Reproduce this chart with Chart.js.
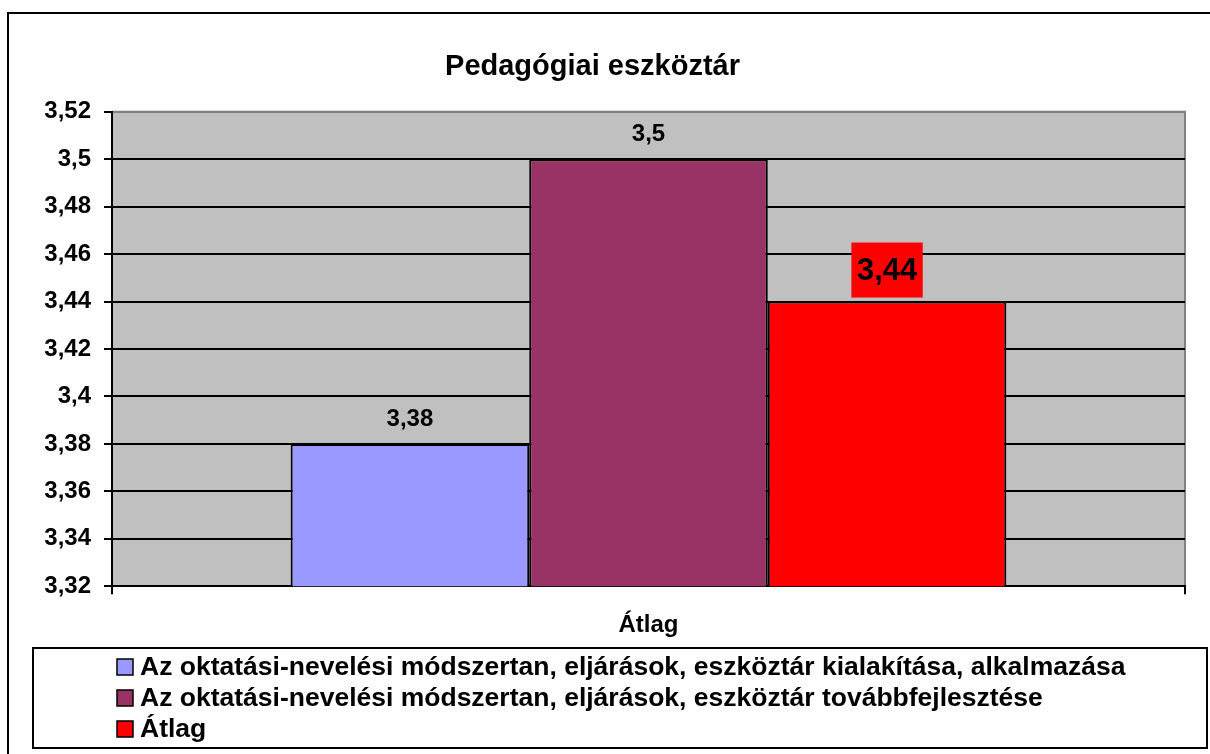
<!DOCTYPE html>
<html>
<head>
<meta charset="utf-8">
<script src="https://cdn.jsdelivr.net/npm/chart.js@4"></script>
<style>
  body { margin: 0; background: #fff; }
  #wrap { width: 1210px; height: 754px; }
</style>
</head>
<body>
<div id="wrap"><canvas id="chart"></canvas></div>
<script>
const categories = ["Átlag"];
const seriesNames = [
  "Az oktatási-nevelési módszertan, eljárások, eszköztár kialakítása, alkalmazása",
  "Az oktatási-nevelési módszertan, eljárások, eszköztár továbbfejlesztése",
  "Átlag"
];
const seriesValues = [[3.38], [3.5], [3.44]];
const seriesColors = ["#9999FF", "#993366", "#FF0000"];
const yTicks = { min: 3.32, max: 3.52, step: 0.02 };

const FONT = "Arial, 'Liberation Sans', sans-serif";
const fmt = v => String(+(+v).toFixed(2)).replace(".", ",");

// grey plot area, outer frame
const frame = {
  id: "frame",
  beforeDraw(chart) {
    const { ctx, chartArea: a } = chart;
    ctx.save();
    ctx.fillStyle = "#fff";
    ctx.fillRect(0, 0, chart.width, chart.height);
    ctx.strokeStyle = "#000";
    ctx.lineWidth = 2;
    ctx.strokeRect(8, 13, chart.width + 10, chart.height + 10);
    ctx.fillStyle = "#C0C0C0";
    ctx.fillRect(a.left, a.top, a.right - a.left, a.bottom - a.top);
    ctx.strokeStyle = "#808080";
    ctx.beginPath();
    ctx.moveTo(a.left, a.top);
    ctx.lineTo(a.right, a.top);
    ctx.lineTo(a.right, a.bottom);
    ctx.stroke();
    ctx.restore();
  }
};

// value labels above the bars
const valueLabels = {
  id: "valueLabels",
  afterDatasetsDraw(chart) {
    const ctx = chart.ctx;
    chart.data.datasets.forEach((ds, i) => {
      const meta = chart.getDatasetMeta(i);
      meta.data.forEach((bar, j) => {
        const txt = fmt(ds.data[j]);
        const size = ds.labelSize || 24;
        ctx.save();
        ctx.font = "bold " + size + "px " + FONT;
        ctx.textAlign = "center";
        ctx.textBaseline = "middle";
        const cy = bar.y - (ds.labelBox ? 31 : 26);
        if (ds.labelBox) {
          const w = ctx.measureText(txt).width + 11;
          ctx.fillStyle = ds.labelBox;
          ctx.fillRect(bar.x - w / 2, cy - 28, w, 55);
        }
        ctx.fillStyle = "#000";
        ctx.fillText(txt, bar.x, cy + 1);
        ctx.restore();
      });
    });
  }
};

// boxed legend, one series per row
const boxLegend = {
  id: "boxLegend",
  afterDraw(chart) {
    const ctx = chart.ctx;
    const top = chart.height - 106;
    ctx.save();
    ctx.strokeStyle = "#000";
    ctx.lineWidth = 2;
    ctx.strokeRect(33, top, 1174, 100);
    ctx.font = "bold 26.5px " + FONT;
    ctx.textBaseline = "middle";
    chart.data.datasets.forEach((ds, i) => {
      const y = top + 19 + i * 31;
      ctx.fillStyle = ds.backgroundColor;
      ctx.fillRect(117, y - 8, 16, 16);
      ctx.lineWidth = 1.5;
      ctx.strokeRect(117, y - 8, 16, 16);
      ctx.fillStyle = "#000";
      ctx.fillText(ds.label, 140, y + 1);
    });
    ctx.restore();
  }
};

new Chart(document.getElementById("chart"), {
  type: "bar",
  data: {
    labels: categories,
    datasets: seriesNames.map((name, i) => ({
      label: name,
      data: seriesValues[i],
      backgroundColor: seriesColors[i],
      borderColor: "#000",
      borderWidth: 2,
      categoryPercentage: 0.667,
      barPercentage: 1,
      labelBox: i === 2 ? "#FF0000" : null,
      labelSize: i === 2 ? 31 : 24
    }))
  },
  options: {
    responsive: true,
    maintainAspectRatio: false,
    animation: false,
    layout: { padding: { left: 0, right: 25, top: 0, bottom: 97 } },
    plugins: {
      legend: { display: false },
      tooltip: { enabled: false },
      title: {
        display: true,
        text: "Pedagógiai eszköztár",
        color: "#000",
        font: { family: FONT, size: 29, weight: "bold" },
        padding: { top: 50, bottom: 27 }
      }
    },
    scales: {
      x: {
        grid: { drawOnChartArea: false, tickLength: 8, color: "#000", lineWidth: 2, offset: true },
        border: { color: "#000", width: 2 },
        ticks: { color: "#000", padding: 17, font: { family: FONT, size: 24, weight: "bold" } }
      },
      y: {
        min: yTicks.min,
        max: yTicks.max,
        afterFit(scale) { scale.width = 112; },
        grid: {
          color: c => (c.tick && Math.abs(c.tick.value - yTicks.max) < 1e-6 ? "#808080" : "#000"),
          tickColor: "#000",
          lineWidth: 2,
          tickLength: 8
        },
        border: { color: "#000", width: 2 },
        ticks: {
          stepSize: yTicks.step,
          color: "#000",
          padding: 13,
          font: { family: FONT, size: 24, weight: "bold" },
          callback: v => fmt(v)
        }
      }
    }
  },
  plugins: [frame, valueLabels, boxLegend]
});
</script>
</body>
</html>
